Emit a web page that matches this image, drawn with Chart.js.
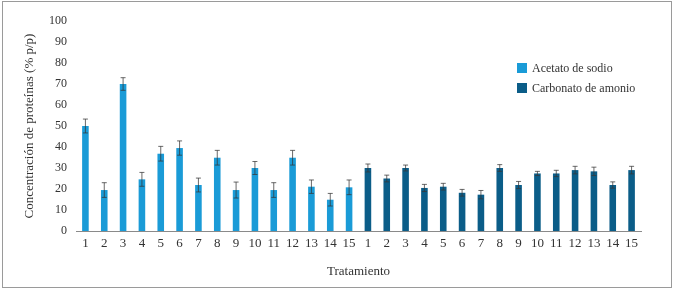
<!DOCTYPE html>
<html>
<head>
<meta charset="utf-8">
<script src="https://cdn.jsdelivr.net/npm/chart.js@4"></script>
<style>
  body { margin: 0; background: #fff; }
  .wrap { position: relative; width: 675px; height: 293px; }
  .frame { position: absolute; left: 2px; top: 1px; width: 668px; height: 285px; border: 1px solid #9a9a9a; pointer-events: none; }
  .legend { position: absolute; left: 517px; top: 58px; font: 12px "Liberation Serif", serif; color: #333; }
  .legend div { height: 20px; display: flex; align-items: center; }
  .legend span { display: inline-block; width: 10px; height: 10px; margin-right: 5px; }
</style>
</head>
<body>
<div class="wrap">
  <canvas id="myChart" width="675" height="293"></canvas>
  <div class="frame"></div>
  <div class="legend" id="legend"></div>
</div>
<script>
const treatments = ['1', '2', '3', '4', '5', '6', '7', '8', '9', '10', '11', '12', '13', '14', '15']
const labels = treatments.concat(treatments)

const acetato = [50, 19.5, 70, 24.6, 36.8, 39.5, 21.9, 34.9, 19.5, 30, 19.5, 34.9, 21.1, 14.9, 20.8]
const acetatoErr = [3.3, 3.5, 3, 3.3, 3.5, 3.4, 3.3, 3.5, 3.8, 3.1, 3.5, 3.5, 3.2, 3, 3.5]
const carbonato = [30, 25, 30, 20.5, 21.1, 18.2, 17.3, 30, 21.9, 27.4, 27.4, 29, 28.4, 21.9, 29]
const carbonatoErr = [1.9, 1.6, 1.4, 1.7, 1.6, 1.6, 2, 1.6, 1.7, 1, 1.5, 1.8, 2, 1.5, 1.8]

const empty = treatments.map(() => null)
const font = "'Liberation Serif', serif"

// error bars drawn on top of the bars
const errorBars = {
  id: 'errorBars',
  afterDatasetsDraw(chart) {
    const ctx = chart.ctx
    const y = chart.scales.y
    chart.data.datasets.forEach((ds, i) => {
      const meta = chart.getDatasetMeta(i)
      meta.data.forEach((bar, j) => {
        const v = ds.data[j]
        if (v === null) return
        const e = ds.errors[j]
        const top = y.getPixelForValue(v + e)
        const bot = y.getPixelForValue(v - e)
        ctx.save()
        ctx.strokeStyle = 'rgba(55,55,55,0.75)'
        ctx.lineWidth = 1
        ctx.beginPath()
        ctx.moveTo(bar.x, top)
        ctx.lineTo(bar.x, bot)
        ctx.moveTo(bar.x - 2.5, top)
        ctx.lineTo(bar.x + 2.5, top)
        ctx.moveTo(bar.x - 2.5, bot)
        ctx.lineTo(bar.x + 2.5, bot)
        ctx.stroke()
        ctx.restore()
      })
    })
  }
}

const chart = new Chart(document.getElementById('myChart'), {
  type: 'bar',
  data: {
    labels: labels,
    datasets: [
      {
        label: 'Acetato de sodio',
        data: acetato.concat(empty),
        errors: acetatoErr.concat(empty),
        backgroundColor: '#1a9bd7'
      },
      {
        label: 'Carbonato de amonio',
        data: empty.concat(carbonato),
        errors: empty.concat(carbonatoErr),
        backgroundColor: '#0b5d88'
      }
    ]
  },
  options: {
    responsive: false,
    animation: false,
    grouped: false,
    barPercentage: 0.35,
    categoryPercentage: 1,
    layout: { padding: { top: 21, right: 34, bottom: 0, left: 0 } },
    plugins: {
      legend: { display: false },
      tooltip: { enabled: false }
    },
    scales: {
      x: {
        grid: { display: false, drawTicks: false },
        border: { display: true, color: '#8a8a8a' },
        ticks: { color: '#333', font: { family: font, size: 13 }, padding: 5, maxRotation: 0, autoSkip: false },
        title: { display: true, text: 'Tratamiento', color: '#333', font: { family: font, size: 13 }, padding: { top: 0, bottom: 14 } },
        afterFit(scale) { scale.height = 62 }
      },
      y: {
        min: 0,
        max: 100,
        ticks: { stepSize: 10, color: '#333', font: { family: font, size: 12 }, padding: 9 },
        grid: { display: false, drawTicks: false },
        border: { display: false },
        title: { display: true, text: 'Concentración de proteínas (% p/p)', color: '#333', font: { family: font, size: 13 }, padding: { top: 22, bottom: 0 } },
        afterFit(scale) { scale.width = 76 }
      }
    }
  },
  plugins: [errorBars]
})

// html legend built from the datasets
const legendEl = document.getElementById('legend')
chart.data.datasets.forEach(ds => {
  const row = document.createElement('div')
  const sw = document.createElement('span')
  sw.style.background = ds.backgroundColor
  row.appendChild(sw)
  row.appendChild(document.createTextNode(ds.label))
  legendEl.appendChild(row)
})
</script>
</body>
</html>
